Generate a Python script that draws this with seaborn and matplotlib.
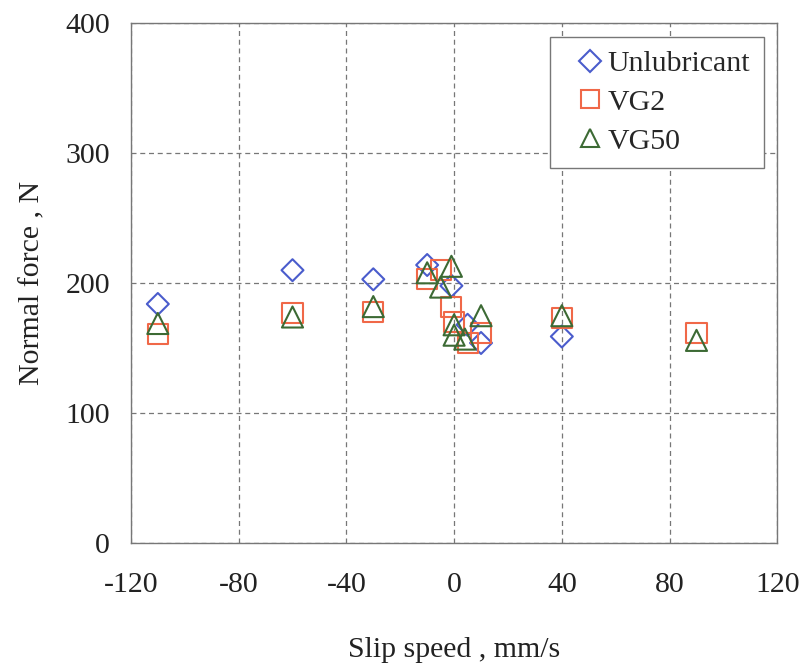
import matplotlib
matplotlib.use("Agg")
import matplotlib.pyplot as plt
from matplotlib.lines import Line2D
from matplotlib.legend_handler import HandlerLine2D
import seaborn as sns
import pandas as pd

# data
unlub_x = [-110, -60, -30, -10, -1, 5, 10, 40]
unlub_y = [184, 210, 203, 214, 198, 168, 154, 159]
vg2_x = [-110, -60, -30, -10, -5, -1, 0, 5, 10, 40, 90]
vg2_y = [161, 177, 178, 203, 210, 182, 170, 154, 162, 173, 162]
vg50_x = [-110, -60, -30, -10, -5, -1, 0, 0, 4, 10, 40, 90]
vg50_y = [169, 174, 182, 208, 197, 213, 168, 160, 157, 175, 175, 156]

series = [
    ("Unlubricant", unlub_x, unlub_y, "D", "#4a5ccc", 125),
    ("VG2", vg2_x, vg2_y, "s", "#f06848", 210),
    ("VG50", vg50_x, vg50_y, "^", "#3c6a34", 230),
]
x_ticks = [-120, -80, -40, 0, 40, 80, 120]
y_ticks = [0, 100, 200, 300, 400]

sns.set_style("white")
plt.rcParams['font.family'] = ['Liberation Serif', 'DejaVu Serif']
plt.rcParams['axes.unicode_minus'] = False

fig = plt.figure(figsize=(8.03, 6.64), dpi=100)
ax = fig.add_axes([0.163, 0.182, 0.805, 0.783])

handles = []
for name, xs, ys, mk, col, s in series:
    df = pd.DataFrame({"x": xs, "y": ys})
    n_before = len(ax.collections)
    sns.scatterplot(data=df, x="x", y="y", marker=mk, s=s, ax=ax, color=col, legend=False, zorder=3)
    for c in ax.collections[n_before:]:
        c.set_facecolor("none")
        c.set_edgecolor(col)
        c.set_linewidth(1.5)
    handles.append(Line2D([], [], marker=mk, linestyle="", markerfacecolor="none",
                          markeredgecolor=col, markeredgewidth=1.5,
                          markersize=(s ** 0.5) * (0.85 if mk != "D" else 1.0), label=name))

ax.set_xlim(-120, 120)
ax.set_ylim(0, 400)
ax.set_xticks(x_ticks)
ax.set_yticks(y_ticks)
ax.grid(True, linestyle=(0, (4, 3)), color="#777777", linewidth=0.9)
ax.set_axisbelow(True)
for sp in ax.spines.values():
    sp.set_color("#777777")
    sp.set_linewidth(1.0)
ax.tick_params(axis="both", length=0, labelsize=21.5, colors="#222222")
ax.tick_params(axis="x", pad=21)
ax.tick_params(axis="y", pad=15)
ax.set_xlabel("Slip speed , mm/s", fontsize=21.5, color="#222222", labelpad=28)
ax.set_ylabel("Normal force , N", fontsize=21.5, color="#222222", labelpad=14)

hmap = {h: HandlerLine2D(numpoints=1, xpad=0.67) for h in handles}
leg = ax.legend(handles=handles, handler_map=hmap, loc="upper right", fontsize=21.5, frameon=True,
                fancybox=False, edgecolor="#777777", borderaxespad=0.45, handletextpad=0.38,
                labelspacing=0.4, handlelength=1.1, borderpad=0.45)
leg.get_frame().set_linewidth(1.0)
leg.get_frame().set_alpha(1)

fig.savefig("out.png", dpi=100)
